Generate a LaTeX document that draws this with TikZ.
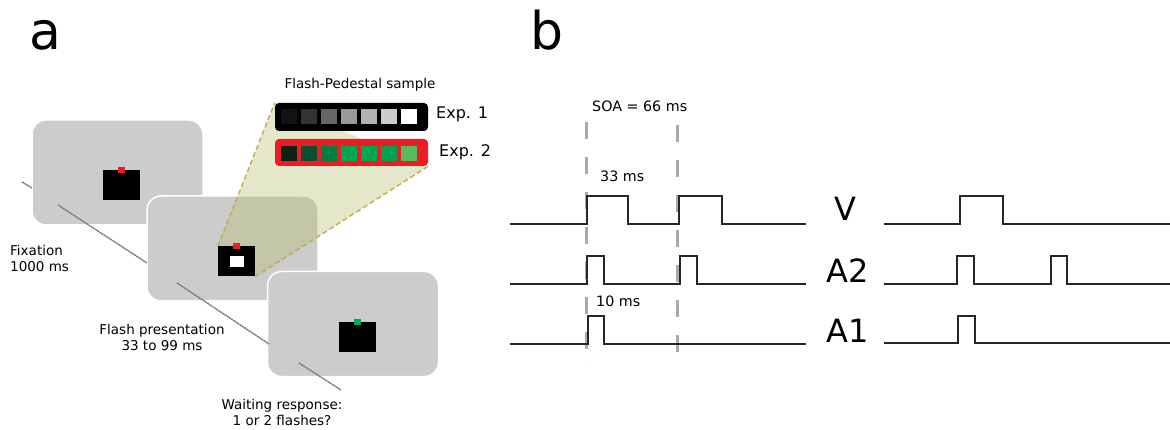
\documentclass[tikz,border=0pt]{standalone}
\usepackage{fontspec}
\setmainfont{DejaVu Sans}
\usetikzlibrary{positioning,calc}
\definecolor{screengray}{HTML}{CCCCCC}
\definecolor{dotred}{HTML}{ED1C24}
\definecolor{dotgreen}{HTML}{00A651}
\definecolor{conefill}{RGB}{185,190,114}
\definecolor{conedash}{HTML}{C2AC4E}
\definecolor{soagray}{HTML}{AAAAAA}
\definecolor{timegray}{HTML}{777777}
\definecolor{grA}{HTML}{0B2314}
\definecolor{grB}{HTML}{0B4F2E}
\definecolor{grC}{HTML}{00803F}
\definecolor{grD}{HTML}{00A550}
\definecolor{grE}{HTML}{00A651}
\definecolor{grF}{HTML}{00A34F}
\definecolor{grG}{HTML}{55BB5E}
\pgfdeclarelayer{front}
\pgfsetlayers{main,front}

\begin{document}
\begin{tikzpicture}[x=1pt,y=-1pt,
  monitor/.style={fill=screengray,draw=white,line width=1.5pt,rounded corners=14pt,
    minimum width=171pt,minimum height=105pt,inner sep=0pt},
  stim/.style={fill=black,minimum width=37pt,minimum height=30pt,inner sep=0pt},
  fixdot/.style={minimum width=7pt,minimum height=6pt,inner sep=0pt},
  bar/.style={rounded corners=4pt,minimum width=153pt,minimum height=27pt,inner sep=0pt},
  cell/.style={minimum width=16pt,minimum height=15pt,inner sep=0pt},
  timeline/.style={timegray,line width=1.4pt,dash pattern=on 2pt off 0.6pt},
  cone/.style={conedash,line width=1.4pt,dash pattern=on 5pt off 3pt},
  soa/.style={soagray,line width=3pt,dash pattern=on 17pt off 18pt},
  trace/.style={black!85,line width=1.1pt},
  small/.style={font=\fontsize{13.5}{16}\selectfont,inner sep=0pt},
  label/.style={font=\fontsize{14.3}{17}\selectfont,inner sep=0pt,anchor=base west},
  chan/.style={font=\fontsize{32}{32}\selectfont,inner sep=0pt,anchor=base},
  panel/.style={font=\fontsize{52}{52}\selectfont,inner sep=0pt,anchor=base}]
\useasboundingbox (0,0) rectangle (1170,430);

\node[panel] (panela) at (45.5,50) {a};
\node[panel] (panelb) at (546.5,50) {b};

% screens
\node[monitor] (fix) at (117.5,172.5) {};
\node[stim] (fixsq) at ($(fix)+(4,13)$) {};
\node[fixdot,fill=dotred] (fixdot) at (fixsq.north) {};
\node[monitor] (flash) at (232.5,248.5) {};

\begin{pgfonlayer}{front}
\node[stim] (flashsq) at ($(flash)+(4,13)$) {};
\node[fill=white,minimum width=14pt,minimum height=11pt,inner sep=0pt] (flashwin) at (flashsq) {};
\node[fixdot,fill=dotred] (flashdot) at (flashsq.north) {};
\node[bar,fill=black,minimum height=28pt] (exp1) at (351.5,117) {};
\node[bar,fill=dotred] (exp2) at (351.5,152.5) {};
\foreach \s [count=\i from 0] in {93,80,60,40,30,20,0}
  \node[cell,fill=black!\s] at ($(exp1.west)+(14+20*\i,-0.5)$) {};
\foreach \c [count=\i from 0] in {grA,grB,grC,grD,grE,grF,grG}
  \node[cell,fill=\c] at ($(exp2.west)+(14+20*\i,1)$) {};
\end{pgfonlayer}

% zoom cone
\fill[conefill,fill opacity=0.37] (flashsq.north west) -- (exp1.north west)
  -- (exp2.south east) -- (flashsq.south east) -- cycle;
\draw[cone] (flashsq.north west) -- (exp1.north west);
\draw[cone] (flashsq.south east) -- (exp2.south east);

\node[monitor] (resp) at (353,324) {};
\node[stim] (respsq) at ($(resp)+(4.5,13)$) {};
\node[fixdot,fill=dotgreen] (respdot) at (respsq.north) {};

% time axis
\draw[timeline] (22,182) -- (32,188);
\draw[timeline] (58,205) -- (147,263);
\draw[timeline] (177,283) -- (269,344);
\draw[timeline] (299,363) -- (341,390);

\node[small,anchor=base] (pedlabel) at (360,89) {Flash-Pedestal sample};
\node[label,font=\fontsize{16}{19}\selectfont] (exp1label) at (436,119) {Exp. 1};
\node[label,font=\fontsize{16}{19}\selectfont] (exp2label) at (439,157) {Exp. 2};
\node[small,anchor=north west,align=left] (fixlabel) at (10,245) {Fixation\\1000 ms};
\node[small,anchor=north,align=center] (flashlabel) at (162,324) {Flash presentation\\33 to 99 ms};
\node[small,anchor=north,align=center] (resplabel) at (282,399) {Waiting response:\\1 or 2 flashes?};

% panel b
\draw[soa] (586,122) -- (586,367);
\draw[soa] (677,125) -- (677,362);
\node[label] (soalabel) at (592,112) {SOA = 66 ms};
\node[label] (vlong) at (600,182) {33 ms};
\node[label] (ashort) at (596,307) {10 ms};

\draw[trace] (510,224) -| (587,196) -| (628,224) -| (679,196) -| (722,224) -- (806,224);
\draw[trace] (510,284) -| (587,256) -| (604,284) -| (680,256) -| (697,284) -- (806,284);
\draw[trace] (510,344) -| (588,316) -| (604,344) -- (806,344);

\node[chan] (vchan) at (845.5,221) {V};
\node[chan] (a2chan) at (847.5,283) {A2};
\node[chan] (a1chan) at (848,342) {A1};

\draw[trace] (884,224) -| (960,196) -| (1003,224) -- (1170,224);
\draw[trace] (884,284) -| (957,256) -| (974,284) -| (1051,256) -| (1067,284) -- (1170,284);
\draw[trace] (884,343) -| (958,316) -| (975,343) -- (1170,343);
\end{tikzpicture}
\end{document}
